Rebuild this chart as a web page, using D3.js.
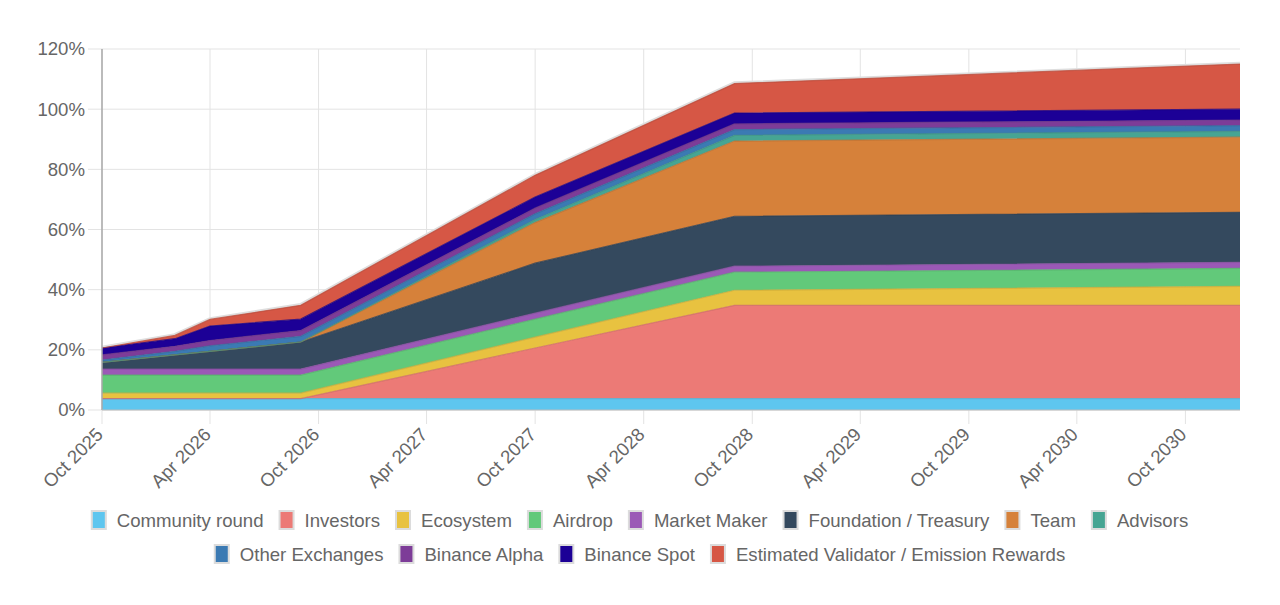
<!DOCTYPE html>
<html>
<head>
<meta charset="utf-8">
<script src="https://cdn.jsdelivr.net/npm/d3@7"></script>
<style>
  body { margin: 0; background: #fff; }
  svg { display: block; font-family: "Liberation Sans", Arial, Helvetica, sans-serif; }
</style>
</head>
<body>
<div class="visHolder"></div>
<script>
// unlock schedule, % of total supply (cumulative per allocation)
const dates = ["2025-10-01", "2026-02-01", "2026-04-01", "2026-09-01", "2027-10-01", "2028-09-01", "2031-01-01"];

const categories = [
    "Community round", "Investors", "Ecosystem", "Airdrop", "Market Maker",
    "Foundation / Treasury", "Team", "Advisors", "Other Exchanges",
    "Binance Alpha", "Binance Spot", "Estimated Validator / Emission Rewards"
];

const communityRound = [3.8, 3.8, 3.8, 3.8, 3.8, 3.8, 3.8];
const investors      = [0, 0, 0, 0, 16.8, 31, 31];
const ecosystem      = [1.8, 1.8, 1.8, 1.8, 3.6, 5.0, 6.3];
const airdrop        = [6, 6, 6, 6, 6, 6, 6];
const marketMaker    = [2, 2, 2, 2, 2, 2, 2];
const foundation     = [2.2, 4.7, 5.9, 9.0, 16.6, 16.6, 16.6];
const team           = [0, 0, 0, 0, 13.5, 25, 25];
const advisors       = [0, 0, 0, 0, 1.0, 1.9, 1.9];
const otherExchanges = [0.8, 1.2, 1.8, 1.9, 1.9, 1.9, 1.9];
const binanceAlpha   = [1.7, 1.7, 1.8, 1.9, 1.9, 1.9, 1.9];
const binanceSpot    = [2.3, 2.5, 4.8, 3.8, 3.7, 3.6, 3.6];
const validator      = [0, 1.1, 2.2, 4.6, 7.2, 9.8, 15];

const seriesValues = [communityRound, investors, ecosystem, airdrop, marketMaker,
    foundation, team, advisors, otherExchanges, binanceAlpha, binanceSpot, validator];

const colors = ["#5ec6ef", "#ec7a76", "#e8c240", "#62c97a", "#9b59b6", "#34495e",
    "#d6813a", "#46a593", "#3b7ab3", "#7d3c98", "#1c0096", "#d65745"];

const yTicks = [0, 20, 40, 60, 80, 100, 120];

const w = 1280;
const h = 605;
const plotLeft = 102, plotRight = 1240, plotTop = 49, plotBottom = 410;
const fontSize = "18.6px";

const parse = d3.timeParse("%Y-%m-%d");
const rows = dates.map((d, i) => {
    const r = { date: parse(d) };
    categories.forEach((c, j) => r[c] = seriesValues[j][i]);
    return r;
});

const x = d3.scaleTime()
    .domain([parse("2025-10-01"), parse("2031-01-01")])
    .range([plotLeft, plotRight]);

const y = d3.scaleLinear()
    .domain([0, 120])
    .range([plotBottom, plotTop]);

const svg = d3.select(".visHolder")
    .append("svg")
    .attr("width", w)
    .attr("height", h);

// grid
const xTicks = d3.timeMonth.range(parse("2025-10-01"), parse("2031-01-01"), 6);

svg.append("g")
    .selectAll("line")
    .data(yTicks)
    .enter()
    .append("line")
    .attr("x1", plotLeft - 14)
    .attr("x2", plotRight)
    .attr("y1", d => y(d))
    .attr("y2", d => y(d))
    .attr("stroke", "#e3e3e3")
    .attr("stroke-width", 1);

svg.append("g")
    .selectAll("line")
    .data(xTicks)
    .enter()
    .append("line")
    .attr("x1", d => x(d))
    .attr("x2", d => x(d))
    .attr("y1", plotTop)
    .attr("y2", plotBottom + 14)
    .attr("stroke", "#e3e3e3")
    .attr("stroke-width", 1);

// stacked areas
const stack = d3.stack().keys(categories);
const layers = stack(rows);

const area = d3.area()
    .x(d => x(d.data.date))
    .y0(d => y(d[0]))
    .y1(d => y(d[1]));

const topLine = d3.line()
    .x(d => x(d.data.date))
    .y(d => y(d[1]));

// soft grey edge above the whole stack
svg.append("path")
    .datum(layers[layers.length - 1])
    .attr("d", topLine)
    .attr("fill", "none")
    .attr("stroke", "#dedede")
    .attr("stroke-width", 4.5)
    .attr("stroke-linejoin", "round");

svg.append("g")
    .selectAll("path")
    .data(layers)
    .enter()
    .append("path")
    .attr("d", area)
    .attr("fill", (d, i) => colors[i]);

svg.append("g")
    .selectAll("path")
    .data(layers)
    .enter()
    .append("path")
    .attr("d", topLine)
    .attr("fill", "none")
    .attr("stroke", (d, i) => d3.color(colors[i]).darker(0.35))
    .attr("stroke-width", 1.2)
    .attr("stroke-opacity", 0.8);

// axes
const yAxis = d3.axisLeft(y)
    .tickValues(yTicks)
    .tickSize(0)
    .tickPadding(17)
    .tickFormat(d => d + "%");

svg.append("g")
    .attr("id", "y-axis")
    .attr("transform", `translate(${plotLeft}, 0)`)
    .call(yAxis)
    .call(g => g.select(".domain").remove())
    .selectAll("text")
    .attr("fill", "#666")
    .style("font-size", fontSize);

svg.append("line")
    .attr("x1", plotLeft).attr("x2", plotLeft)
    .attr("y1", plotTop).attr("y2", plotBottom)
    .attr("stroke", "#a8a8a8")
    .attr("stroke-width", 1.5);

svg.append("line")
    .attr("x1", plotLeft).attr("x2", plotRight)
    .attr("y1", plotBottom).attr("y2", plotBottom)
    .attr("stroke", "#bdbdbd")
    .attr("stroke-width", 1);

const xAxis = d3.axisBottom(x)
    .tickValues(xTicks)
    .tickSize(0)
    .tickFormat(d3.timeFormat("%b %Y"));

svg.append("g")
    .attr("id", "x-axis")
    .attr("transform", `translate(0, ${plotBottom})`)
    .call(xAxis)
    .call(g => g.select(".domain").remove())
    .selectAll("text")
    .attr("x", 0)
    .attr("y", 0)
    .attr("dy", "0.35em")
    .attr("transform", "translate(-3, 21) rotate(-45)")
    .style("text-anchor", "end")
    .style("font-size", fontSize)
    .attr("fill", "#666");

// legend
const legend = svg.append("g").attr("class", "legend");
const items = legend.selectAll("g")
    .data(categories)
    .enter()
    .append("g");

items.append("rect")
    .attr("width", 14)
    .attr("height", 18)
    .attr("y", -9)
    .attr("fill", (d, i) => colors[i])
    .attr("stroke", "#dcdcdc")
    .attr("stroke-width", 2);

items.append("text")
    .attr("x", 25)
    .attr("dy", "0.35em")
    .style("font-size", fontSize)
    .attr("fill", "#666")
    .text(d => d);

const widths = [];
items.each(function () {
    widths.push(25 + this.querySelector("text").getComputedTextLength());
});

const gap = 16, maxW = 1150;
const lines = [[]];
let cur = 0;
widths.forEach((wd, i) => {
    const add = (lines[lines.length - 1].length ? gap : 0) + wd;
    if (cur + add > maxW && lines[lines.length - 1].length) {
        lines.push([i]);
        cur = wd;
    } else {
        lines[lines.length - 1].push(i);
        cur += add;
    }
});

lines.forEach((line, r) => {
    const total = d3.sum(line, i => widths[i]) + gap * (line.length - 1);
    let px = w / 2 - total / 2;
    line.forEach(i => {
        items.filter((d, j) => j === i)
            .attr("transform", `translate(${px}, ${520 + r * 34})`);
        px += widths[i] + gap;
    });
});
</script>
</body>
</html>
